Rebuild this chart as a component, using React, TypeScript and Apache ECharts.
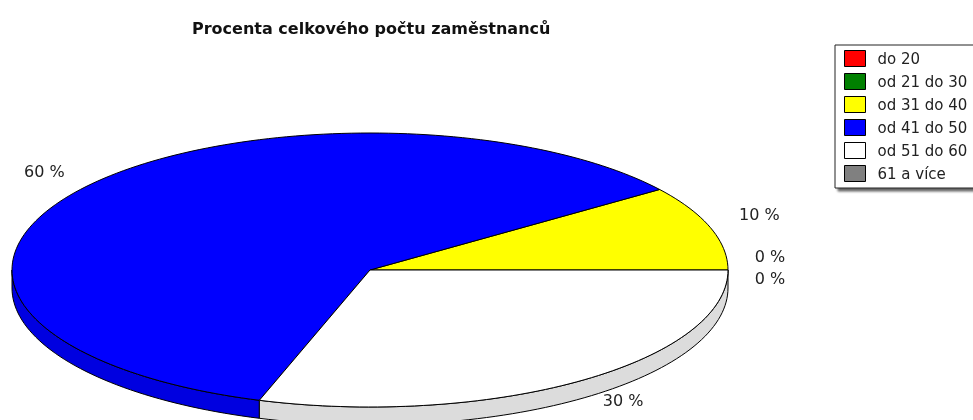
import React, { useEffect, useRef } from "react";
import * as echarts from "echarts";

const titleText = "Procenta celkového počtu zaměstnanců";
const categories = ["do 20", "od 21 do 30", "od 31 do 40", "od 41 do 50", "od 51 do 60", "61 a více"];
const shares = [0, 0, 10, 60, 30, 0];
const topColors = ["#ff0000", "#008000", "#ffff00", "#0000ff", "#ffffff", "#808080"];
const sideColors = ["#c00000", "#006000", "#d0d000", "#0000e0", "#dcdcdc", "#606060"];
const labelShown = [true, false, true, true, true, true];
const labelNudge = [[0, -14], [0, 0], [9, -5], [-2, -2], [18, -3], [0, 8]];

const CX = 370, CY = 270, RX = 358, RY = 137, DEPTH = 18, LRX = 400, LRY = 165;

function point(deg: number, dy = 0, rx = RX, ry = RY) {
  const a = (deg * Math.PI) / 180;
  return [CX + rx * Math.cos(a), CY - ry * Math.sin(a) + dy];
}
function arc(from: number, to: number, dy = 0) {
  const pts: number[][] = [];
  const n = Math.max(2, Math.ceil(Math.abs(to - from) / 1.5));
  for (let i = 0; i <= n; i++) pts.push(point(from + ((to - from) * i) / n, dy));
  return pts;
}

export default function App() {
  const ref = useRef<HTMLDivElement>(null);
  useEffect(() => {
    const chart = echarts.init(ref.current!, undefined, { renderer: "svg" });
    let acc = 0;
    const series = categories.map((name, i) => {
      const start = (acc / 100) * 360;
      acc += shares[i];
      const end = (acc / 100) * 360;
      return {
        type: "custom",
        name,
        coordinateSystem: "none",
        silent: true,
        itemStyle: { color: topColors[i], borderColor: "#000", borderWidth: 1 },
        data: [[shares[i]]],
        renderItem: () => {
          const children: any[] = [];
          const sFrom = Math.max(start, 180), sTo = end;
          if (shares[i] > 0 && sTo > sFrom) {
            children.push({
              type: "polygon",
              shape: { points: [...arc(sFrom, sTo, 0), ...arc(sTo, sFrom, DEPTH)] },
              style: { fill: sideColors[i], stroke: "#000", lineWidth: 1 },
            });
          }
          if (shares[i] > 0) {
            children.push({
              type: "polygon",
              shape: { points: [[CX, CY], ...arc(start, end)] },
              style: { fill: topColors[i], stroke: "#000", lineWidth: 1 },
            });
          }
          if (labelShown[i]) {
            const [x, y] = point((start + end) / 2, 0, LRX, LRY);
            children.push({
              type: "text",
              x: x + labelNudge[i][0],
              y: y + labelNudge[i][1],
              z2: 10,
              style: {
                text: `${shares[i]} %`,
                fill: "#222",
                font: "16px 'DejaVu Sans'",
                align: "center",
                verticalAlign: "middle",
              },
            });
          }
          return { type: "group", children };
        },
      };
    });
    chart.setOption({
      animation: false,
      backgroundColor: "#fff",
      title: {
        text: titleText,
        left: 187,
        top: 15,
        textStyle: { fontFamily: "DejaVu Sans", fontSize: 16, fontWeight: "bold", color: "#111" },
      },
      legend: {
        orient: "vertical",
        left: 835,
        top: 45,
        width: 240,
        padding: [5, 60, 6, 9],
        itemWidth: 21,
        itemHeight: 16,
        itemGap: 6,
        backgroundColor: "#fff",
        borderColor: "#222",
        borderWidth: 1,
        shadowColor: "rgba(0,0,0,0.6)",
        shadowBlur: 2,
        shadowOffsetX: 3,
        shadowOffsetY: 3,
        icon: "rect",
        selectedMode: false,
        textStyle: { fontFamily: "DejaVu Sans", fontSize: 15, color: "#222", padding: [0, 0, 0, 7] },
        data: categories.map((name, i) => ({
          name,
          itemStyle: { color: topColors[i], borderColor: "#000", borderWidth: 1 },
        })),
      },
      series,
    });
    return () => chart.dispose();
  }, []);
  return <div ref={ref} style={{ position: "fixed", left: 0, top: 0, width: 973, height: 420, filter: "blur(0.4px)" }} />;
}
